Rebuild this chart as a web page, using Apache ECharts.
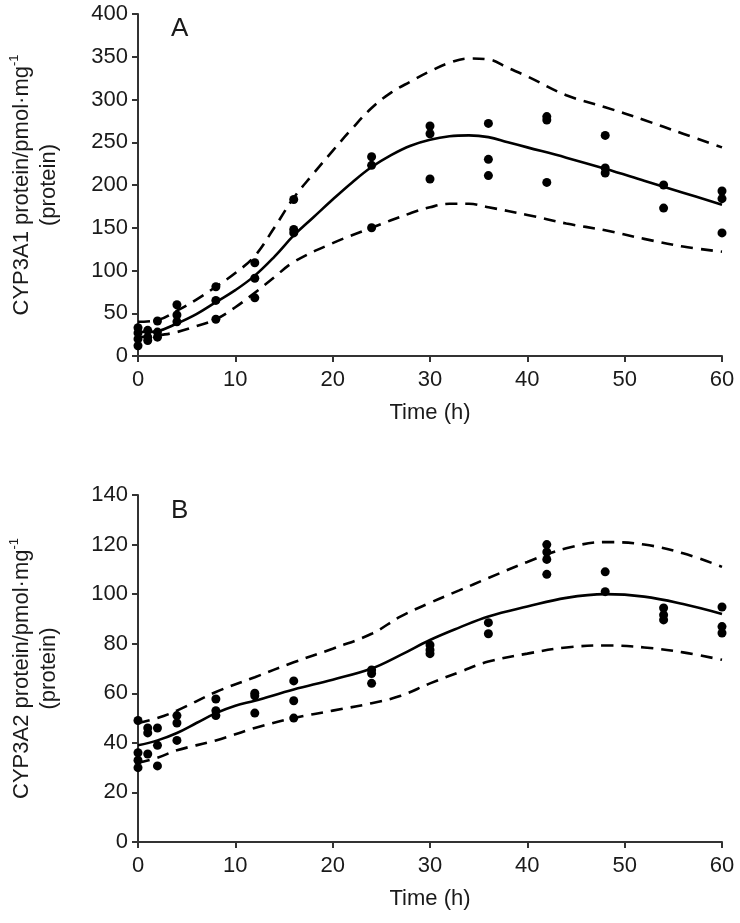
<!DOCTYPE html>
<html>
<head>
<meta charset="utf-8">
<script src="https://cdn.jsdelivr.net/npm/echarts@6/dist/echarts.min.js"></script>
<style>
html,body{margin:0;padding:0;background:#fff;}
#chart{width:740px;height:923px;}
</style>
</head>
<body>
<div id="chart"></div>
<script>
var xTicks = [0, 10, 20, 30, 40, 50, 60];
var yTicksA = [0, 50, 100, 150, 200, 250, 300, 350, 400];
var yTicksB = [0, 20, 40, 60, 80, 100, 120, 140];

// ---------- Panel A (CYP3A1) ----------
var obsA = [
  [0, 33], [0, 27], [0, 20], [0, 12],
  [1, 30], [1, 22], [1, 18],
  [2, 41], [2, 28], [2, 22],
  [4, 60], [4, 48], [4, 40],
  [8, 81], [8, 65], [8, 43],
  [12, 109], [12, 91], [12, 68],
  [16, 183], [16, 148], [16, 144],
  [24, 233], [24, 223], [24, 150],
  [30, 269], [30, 260], [30, 207],
  [36, 272], [36, 230], [36, 211],
  [42, 280], [42, 276], [42, 203],
  [48, 258], [48, 220], [48, 214],
  [54, 200], [54, 173],
  [60, 193], [60, 184], [60, 144]
];
var fitA = [
  [0, 29], [1, 28], [2, 29], [4, 38], [6, 49], [8, 63], [10, 77], [12, 94], [14, 116],
  [16, 141], [18, 162], [20, 183], [22, 203], [24, 221], [26, 235], [28, 246],
  [30, 253], [32, 257], [34, 258], [36, 256], [38, 250], [40, 244], [44, 232],
  [48, 219], [52, 205], [56, 191], [60, 177]
];
var upperA = [
  [0, 40], [2, 42], [4, 53], [6, 66], [8, 81], [10, 97], [12, 117], [14, 150],
  [16, 185], [18, 213], [20, 240], [22, 266], [24, 290], [26, 308], [28, 321],
  [30, 333], [32, 343], [34, 348], [36, 347], [38, 337], [40, 327], [44, 305],
  [48, 291], [52, 276], [56, 260], [60, 244]
];
var lowerA = [
  [0, 22], [2, 24], [4, 28], [6, 35], [8, 43], [10, 57], [12, 74], [14, 92],
  [16, 110], [20, 132], [24, 150], [28, 167], [30, 174], [32, 178], [34, 178],
  [36, 174], [40, 165], [44, 155], [48, 147], [52, 137], [56, 128], [60, 122]
];

// ---------- Panel B (CYP3A2) ----------
var obsB = [
  [0, 49], [0, 36], [0, 33], [0, 30],
  [1, 46], [1, 44], [1, 35.5],
  [2, 46], [2, 39], [2, 30.7],
  [4, 51], [4, 48], [4, 41],
  [8, 57.7], [8, 53], [8, 51],
  [12, 60], [12, 59], [12, 52],
  [16, 65], [16, 57], [16, 50],
  [24, 69.4], [24, 68], [24, 64],
  [30, 79.5], [30, 77.5], [30, 76],
  [36, 88.5], [36, 84],
  [42, 120], [42, 117], [42, 114], [42, 108],
  [48, 109], [48, 101],
  [54, 94.4], [54, 91.6], [54, 89.6],
  [60, 94.8], [60, 86.9], [60, 84.3]
];
var fitB = [
  [0, 39], [2, 41], [4, 44], [6, 48], [8, 52], [10, 55], [12, 57], [16, 61.5],
  [20, 65.5], [24, 70], [27, 75.5], [30, 81.5], [33, 86.5], [36, 91], [40, 95],
  [44, 98.5], [48, 100], [52, 99], [56, 96], [60, 92]
];
var upperB = [
  [0, 48], [2, 50], [4, 53], [8, 60.5], [12, 66.5], [16, 72.5], [20, 78], [24, 84],
  [27, 91], [30, 96.5], [33, 101.5], [36, 106.5], [40, 113], [44, 118.5], [48, 121],
  [52, 120], [56, 116.5], [60, 111]
];
var lowerB = [
  [0, 32], [2, 34], [4, 37], [8, 41], [12, 46], [16, 50], [20, 53], [24, 56],
  [27, 59], [30, 64], [33, 68.5], [36, 72.8], [40, 76], [44, 78.5], [48, 79.3],
  [52, 78.5], [56, 76.5], [60, 73.5]
];

var FONT = 'Liberation Sans';
var INK = '#1a1a1a';
var AX = '#333';

function xAxis(gi) {
  return {
    type: 'value', gridIndex: gi, min: 0, max: 60, interval: 10,
    name: 'Time (h)', nameLocation: 'middle', nameGap: 46,
    nameTextStyle: { fontFamily: FONT, fontSize: 22, color: INK },
    axisLine: { lineStyle: { color: AX, width: 2 } },
    axisTick: { length: 6, lineStyle: { color: AX, width: 2 } },
    axisLabel: { fontFamily: FONT, fontSize: 22, color: INK, margin: 13,
      formatter: function (v) { return xTicks.indexOf(v) >= 0 ? String(v) : ''; } },
    splitLine: { show: false }
  };
}
function yAxis(gi, ticks, label) {
  return {
    type: 'value', gridIndex: gi, min: ticks[0], max: ticks[ticks.length - 1],
    interval: ticks[1] - ticks[0],
    name: label, nameLocation: 'middle', nameGap: 76, nameRotate: 90,
    nameTextStyle: { fontFamily: FONT, fontSize: 22, color: INK, lineHeight: 27, align: 'center',
      rich: { sup: { fontFamily: FONT, fontSize: 13, color: INK, verticalAlign: 'top', lineHeight: 27, padding: [0, 0, 10, 0] } } },
    axisLine: { show: true, lineStyle: { color: AX, width: 2 } },
    axisTick: { show: true, length: 6, lineStyle: { color: AX, width: 2 } },
    axisLabel: { fontFamily: FONT, fontSize: 22, color: INK, margin: 10 },
    splitLine: { show: false }
  };
}
function dots(gi, data) {
  return { type: 'scatter', xAxisIndex: gi, yAxisIndex: gi, data: data,
    symbol: 'circle', symbolSize: 9, itemStyle: { color: '#000', opacity: 1 }, z: 5, silent: true };
}
function curve(gi, data, dashed) {
  return { type: 'line', xAxisIndex: gi, yAxisIndex: gi, data: data, smooth: 0.4,
    showSymbol: false, silent: true,
    lineStyle: { color: '#000', width: 2.6, type: dashed ? [12, 8] : 'solid' } };
}

var chart = echarts.init(document.getElementById('chart'), null, { renderer: 'canvas' });
chart.setOption({
  animation: false,
  backgroundColor: '#fff',
  grid: [
    { left: 136, right: 18, top: 14, height: 342 },
    { left: 136, right: 18, top: 495, height: 347 }
  ],
  xAxis: [xAxis(0), xAxis(1)],
  yAxis: [
    yAxis(0, yTicksA, 'CYP3A1 protein/pmol·mg{sup|-1}\n(protein)'),
    yAxis(1, yTicksB, 'CYP3A2 protein/pmol·mg{sup|-1}\n(protein)')
  ],
  graphic: [
    { type: 'text', left: 171, top: 16, style: { text: 'A', fontFamily: FONT, fontSize: 26, fill: INK } },
    { type: 'text', left: 171, top: 498, style: { text: 'B', fontFamily: FONT, fontSize: 26, fill: INK } }
  ],
  series: [
    curve(0, upperA, true), curve(0, lowerA, true), curve(0, fitA, false), dots(0, obsA),
    curve(1, upperB, true), curve(1, lowerB, true), curve(1, fitB, false), dots(1, obsB)
  ]
});
</script>
</body>
</html>
